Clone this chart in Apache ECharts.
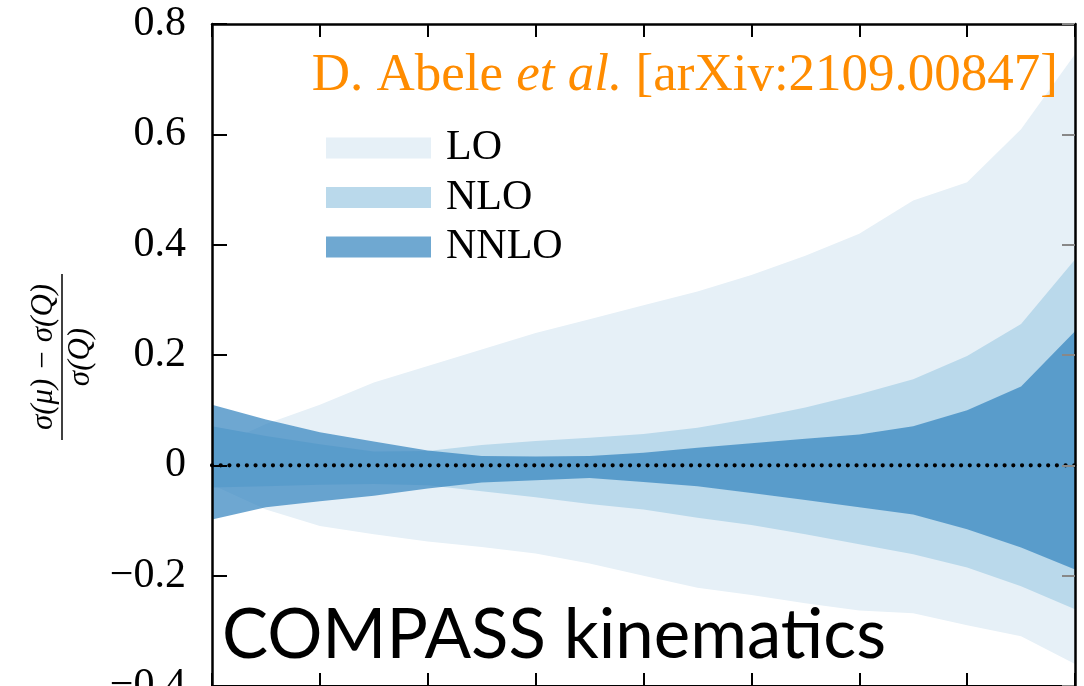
<!DOCTYPE html>
<html>
<head>
<meta charset="utf-8">
<script src="https://cdn.jsdelivr.net/npm/echarts@6/dist/echarts.min.js"></script>
<style>
html,body{margin:0;padding:0;background:#fff;}
#chart{width:1084px;height:686px;}
</style>
</head>
<body>
<div id="chart"></div>
<script>
// x positions of the computed points
const xs = [0, 1, 2, 3, 4, 5, 6, 7, 8, 9, 10, 11, 12, 13, 14, 15, 16];
// band edges: (sigma(mu)-sigma(Q))/sigma(Q)
const loUpper   = [0.03, 0.075, 0.11, 0.15, 0.18, 0.21, 0.24, 0.265, 0.29, 0.315, 0.345, 0.38, 0.42, 0.48, 0.513, 0.609, 0.745];
const loLower   = [-0.035, -0.08, -0.11, -0.125, -0.138, -0.148, -0.16, -0.178, -0.2, -0.222, -0.235, -0.25, -0.263, -0.268, -0.29, -0.31, -0.36];
const nloUpper  = [0.071, 0.053, 0.038, 0.025, 0.026, 0.037, 0.044, 0.05, 0.057, 0.068, 0.085, 0.105, 0.129, 0.156, 0.198, 0.256, 0.373];
const nloLower  = [-0.04, -0.038, -0.035, -0.034, -0.036, -0.047, -0.058, -0.07, -0.08, -0.095, -0.108, -0.125, -0.143, -0.161, -0.185, -0.219, -0.261];
const nnloUpper = [0.11, 0.083, 0.06, 0.043, 0.027, 0.017, 0.016, 0.017, 0.023, 0.032, 0.04, 0.048, 0.056, 0.071, 0.1, 0.143, 0.243];
const nnloLower = [-0.098, -0.076, -0.065, -0.055, -0.042, -0.031, -0.027, -0.023, -0.03, -0.038, -0.05, -0.063, -0.076, -0.089, -0.116, -0.149, -0.189];
const zeroLine  = [0, 0, 0, 0, 0, 0, 0, 0, 0, 0, 0, 0, 0, 0, 0, 0, 0];
const bandNames = ['LO', 'NLO', 'NNLO'];
const yTickLabels = {'0.8':'0.8','0.6':'0.6','0.4':'0.4','0.2':'0.2','0':'0','-0.2':'\u22120.2','-0.4':'\u22120.4'};

const bandColors = ['#e6f0f7', '#bad9eb', 'rgba(49,130,189,0.7)'];
const legendColors = ['#e6f0f7', '#bad9eb', '#6fa8d1'];

function bandSeries(name, upper, lower, color, z) {
  return {
    name: name,
    type: 'custom',
    z: z,
    silent: true,
    itemStyle: {color: color},
    data: xs.map((x, i) => [x, lower[i], upper[i]]),
    encode: {x: 0, y: [1, 2]},
    renderItem: function (params, api) {
      if (params.dataIndex !== 0) return null;
      const pts = [];
      for (let i = 0; i < xs.length; i++) pts.push(api.coord([xs[i], upper[i]]));
      for (let i = xs.length - 1; i >= 0; i--) pts.push(api.coord([xs[i], lower[i]]));
      return {type: 'polygon', shape: {points: pts}, style: {fill: color, stroke: null}};
    }
  };
}

const serif = '"Liberation Serif", "DejaVu Serif", serif';
const chart = echarts.init(document.getElementById('chart'));
chart.setOption({
  backgroundColor: '#ffffff',
  animation: false,
  grid: {left: 212, right: 9, top: 24, bottom: 0, outerBoundsMode: 'none', containLabel: false},
  legend: {
    orient: 'vertical', left: 321, top: 122,
    itemWidth: 105, itemHeight: 21, itemGap: 7.5,
    icon: 'rect',
    textStyle: {fontFamily: serif, fontSize: 42, color: '#000', padding: [0, 0, 0, 10]},
    data: bandNames.map((n, i) => ({name: n, itemStyle: {color: legendColors[i]}}))
  },
  xAxis: [
    {type: 'value', min: 0, max: 16, interval: 2, position: 'bottom', z: 10,
     axisLine: {show: true, onZero: false, lineStyle: {color: '#000', width: 2}},
     axisTick: {show: true, inside: true, length: 13, lineStyle: {color: '#000', width: 2}},
     axisLabel: {show: false}, splitLine: {show: false}},
    {type: 'value', min: 0, max: 16, interval: 2, position: 'top', z: 10,
     axisLine: {show: true, onZero: false, lineStyle: {color: '#000', width: 2.5}},
     axisTick: {show: true, inside: true, length: 13, lineStyle: {color: '#000', width: 2}},
     axisLabel: {show: false}, splitLine: {show: false}}
  ],
  yAxis: [
    {type: 'value', min: -0.4, max: 0.8, interval: 0.2, position: 'left', z: 10,
     axisLine: {show: true, onZero: false, lineStyle: {color: '#000', width: 2.5}},
     axisTick: {show: true, inside: true, length: 15, lineStyle: {color: '#000', width: 2}},
     axisLabel: {show: true, margin: 26, fontFamily: serif, fontSize: 42, color: '#000',
       formatter: function (v) { return yTickLabels[String(Math.round(v * 10) / 10)] || ''; }},
     splitLine: {show: false}},
    {type: 'value', min: -0.4, max: 0.8, interval: 0.2, position: 'right', z: 10,
     axisLine: {show: true, onZero: false, lineStyle: {color: '#000', width: 2.5}},
     axisTick: {show: true, inside: true, length: 13, lineStyle: {color: '#888', width: 2}},
     axisLabel: {show: false}, splitLine: {show: false}}
  ],
  series: [
    bandSeries(bandNames[0], loUpper, loLower, bandColors[0], 2),
    bandSeries(bandNames[1], nloUpper, nloLower, bandColors[1], 3),
    bandSeries(bandNames[2], nnloUpper, nnloLower, bandColors[2], 4),
    {
      type: 'line', z: 6, silent: true, symbol: 'none',
      data: xs.map((x, i) => [x, zeroLine[i]]),
      lineStyle: {color: '#000', width: 4.2, type: [0.01, 8.7], cap: 'round'}
    }
  ],
  graphic: [
    {
      type: 'text', right: 26, top: 50, z: 20,
      style: {
        text: '{n|D. Abele }{i|et al.}{n| [arXiv:2109.00847]}',
        rich: {
          n: {fontFamily: serif, fontSize: 53, fill: '#ff8c00'},
          i: {fontFamily: serif, fontSize: 53, fontStyle: 'italic', fill: '#ff8c00'}
        }
      }
    },
    {
      type: 'text', left: 222, top: 601, z: 20,
      style: {text: 'COMPASS kinematics', fontFamily: 'Lato, "Open Sans", sans-serif', fontSize: 69, fill: '#000'}
    },
    {
      type: 'group', x: 62, y: 357, rotation: Math.PI / 2, z: 20,
      children: [
        {type: 'text', x: 0, y: -3, style: {text: '\u03c3(\u03bc) \u2212 \u03c3(Q)', fontFamily: serif, fontStyle: 'italic', fontSize: 31, fill: '#000', align: 'center', verticalAlign: 'bottom'}},
        {type: 'line', shape: {x1: -83, y1: 0, x2: 83, y2: 0}, style: {stroke: '#000', lineWidth: 1.5}},
        {type: 'text', x: 0, y: 3, style: {text: '\u03c3(Q)', fontFamily: serif, fontStyle: 'italic', fontSize: 31, fill: '#000', align: 'center', verticalAlign: 'top'}}
      ]
    }
  ]
});
</script>
</body>
</html>
